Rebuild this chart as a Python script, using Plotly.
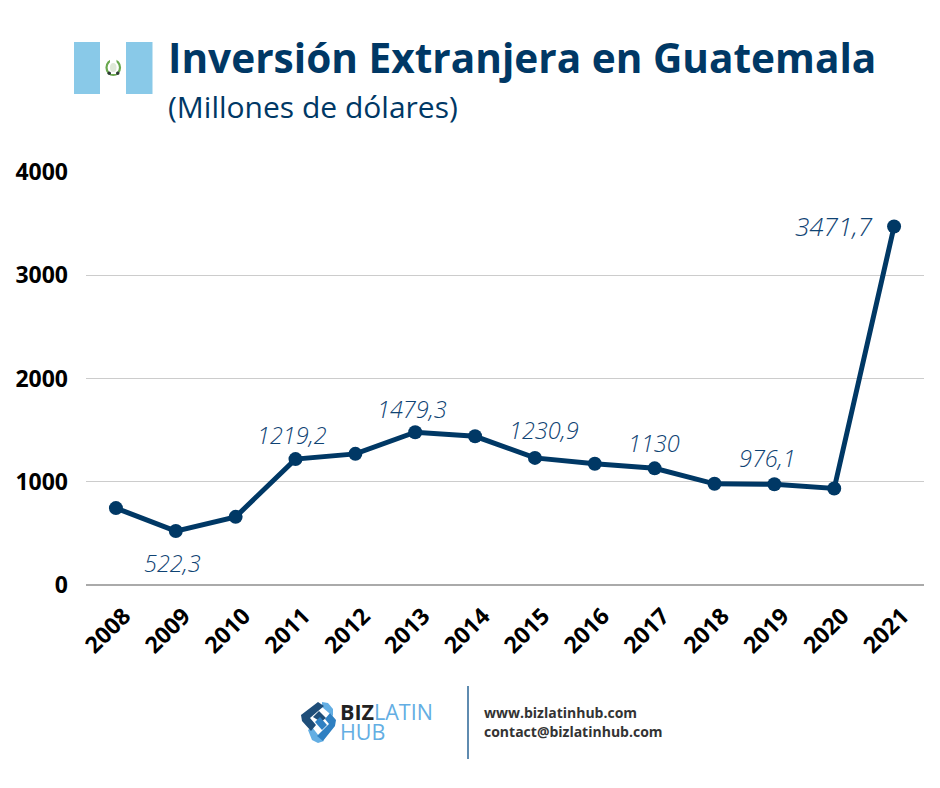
import plotly.graph_objects as go

W = 940
H = 788

years = ["2008", "2009", "2010", "2011", "2012", "2013", "2014",
         "2015", "2016", "2017", "2018", "2019", "2020", "2021"]
inversion = [745, 522.3, 660, 1219.2, 1270, 1479.3, 1440,
             1230.9, 1175, 1130, 980, 976.1, 935, 3471.7]

# only some points carry a label
label_years = ["2009", "2011", "2013", "2015", "2017", "2019", "2021"]
label_texts = ["522,3", "1219,2", "1479,3", "1230,9", "1130", "976,1", "3471,7"]
label_dx = [-3, -4, -3, 9, -1, -7, -60]
label_dy = [-32, 24, 23, 28, 25, 26, 1]
label_size = [23.5, 23.5, 23.5, 23.5, 23.5, 23.5, 26]

NAVY = "#003865"
LIGHT_BLUE = "#89c9e8"
LOGO_DARK = "#1f4e79"
LOGO_MID = "#2f80c2"
LOGO_LIGHT = "#63aee3"


def px(x):
    return x / W


def py(y):
    return 1 - y / H


def path(points):
    pts = [f"{px(x):.5f},{py(y):.5f}" for x, y in points]
    return "M " + " L ".join(pts) + " Z"


fig = go.Figure()
fig.add_trace(go.Scatter(
    x=years, y=inversion, mode="lines+markers",
    line=dict(color=NAVY, width=5),
    marker=dict(color=NAVY, size=14),
    hoverinfo="x+y", showlegend=False,
))

shapes = []
# flag
for x0, x1 in [(74, 100), (126, 152.5)]:
    shapes.append(dict(type="rect", xref="paper", yref="paper",
                       x0=px(x0), x1=px(x1), y0=py(94), y1=py(42),
                       fillcolor=LIGHT_BLUE, line_width=0, layer="above"))
shapes.append(dict(type="circle", xref="paper", yref="paper",
                   x0=px(106.5), x1=px(120), y0=py(75), y1=py(60),
                   fillcolor="rgba(0,0,0,0)", layer="above",
                   line=dict(color="#6aa84f", width=2.2)))
shapes.append(dict(type="rect", xref="paper", yref="paper",
                   x0=px(110), x1=px(116.5), y0=py(74), y1=py(58.5),
                   fillcolor="white", line_width=0, layer="above"))
shapes.append(dict(type="circle", xref="paper", yref="paper",
                   x0=px(110), x1=px(116.5), y0=py(72), y1=py(63),
                   fillcolor="#dfe8d8", line_width=0, layer="above"))
for x0 in (107.5, 116):
    shapes.append(dict(type="circle", xref="paper", yref="paper",
                       x0=px(x0), x1=px(x0 + 3.5), y0=py(75), y1=py(71.5),
                       fillcolor="#2f3b35", line_width=0, layer="above"))

# logo mark, back to front
logo_parts = [
    (LOGO_LIGHT, [(322, 702), (328, 703), (333, 709), (333, 716), (329, 713), (322, 707)]),
    (LOGO_LIGHT, [(308, 730), (312, 727), (319, 736), (324, 741), (318, 743), (312, 740)]),
    (LOGO_MID, [(330, 713), (336, 720), (335, 726), (323, 741), (317, 736), (329, 724), (325, 719)]),
    (LOGO_DARK, [(318, 702), (324, 706), (310, 718), (316, 725), (311, 731), (302, 721), (301, 715)]),
    (LOGO_DARK, [(313, 717), (319, 711), (326, 718), (321, 722)]),
    (LOGO_MID, [(315, 722), (320, 717), (327, 725), (322, 730)]),
]
for color, pts in logo_parts:
    shapes.append(dict(type="path", xref="paper", yref="paper", layer="above",
                       path=path(pts), fillcolor=color, line_width=0))
# divider
shapes.append(dict(type="line", xref="paper", yref="paper",
                   x0=px(468), x1=px(468), y0=py(686), y1=py(759),
                   line=dict(color="#2a6496", width=1.5)))

annotations = []


def add_text(x, y, text, size, color, weight=400, anchor="left"):
    annotations.append(dict(
        xref="paper", yref="paper", x=px(x), y=py(y), text=text, showarrow=False,
        xanchor=anchor, yanchor="middle",
        font=dict(family="Open Sans", size=size, color=color, weight=weight),
    ))


add_text(166, 57, "Inversión Extranjera en Guatemala", 40.6, NAVY, 700)
add_text(166, 106, "(Millones de dólares)", 30, NAVY)
add_text(338, 711,
         "<b><span style='color:#222222'>BIZ</span></b>"
         "<span style='color:#63aee3;font-weight:400'>LATIN</span>", 21.5, LOGO_LIGHT)
add_text(338, 731, "HUB", 21.5, LOGO_LIGHT)
add_text(482, 712, "www.bizlatinhub.com", 14, "#333333", 700)
add_text(482, 731, "contact@bizlatinhub.com", 14, "#333333", 700)

# numeric category index: year strings would be read as positions otherwise
for yr, txt, dx, dy, size in zip(label_years, label_texts, label_dx, label_dy, label_size):
    i = years.index(yr)
    annotations.append(dict(
        x=i, y=inversion[i], xref="x", yref="y", text=txt,
        showarrow=False, xshift=dx, yshift=dy,
        font=dict(family="Open Sans", size=size, color="#0f4373",
                  style="italic", weight=300),
    ))

fig.update_layout(
    width=W, height=H,
    margin=dict(l=0, r=0, t=0, b=0),
    paper_bgcolor="white", plot_bgcolor="white",
    font=dict(family="Open Sans"),
    shapes=shapes, annotations=annotations,
    xaxis=dict(domain=[px(86), px(924)], type="category", categoryorder="array",
               categoryarray=years, tickangle=-45, showgrid=False, ticks="",
               zeroline=False, showline=False, automargin=False,
               range=[-0.5, 13.5], ticklabelstandoff=12, ticklabelshift=8,
               tickfont=dict(family="Open Sans", size=23, color="#000000", weight=700)),
    yaxis=dict(domain=[py(585), py(172)], range=[0, 4000], tickvals=[0, 1000, 2000, 3000, 4000],
               gridcolor="#cccccc", gridwidth=1, zeroline=True, zerolinecolor="#aaaaaa",
               zerolinewidth=1.5, showline=False, ticks="", ticklabelstandoff=17,
               automargin=False,
               tickfont=dict(family="Open Sans", size=23, color="#000000", weight=700)),
)

fig.write_html("out.html", config=dict(displayModeBar=False),
               post_script="document.body.style.margin='0';")
